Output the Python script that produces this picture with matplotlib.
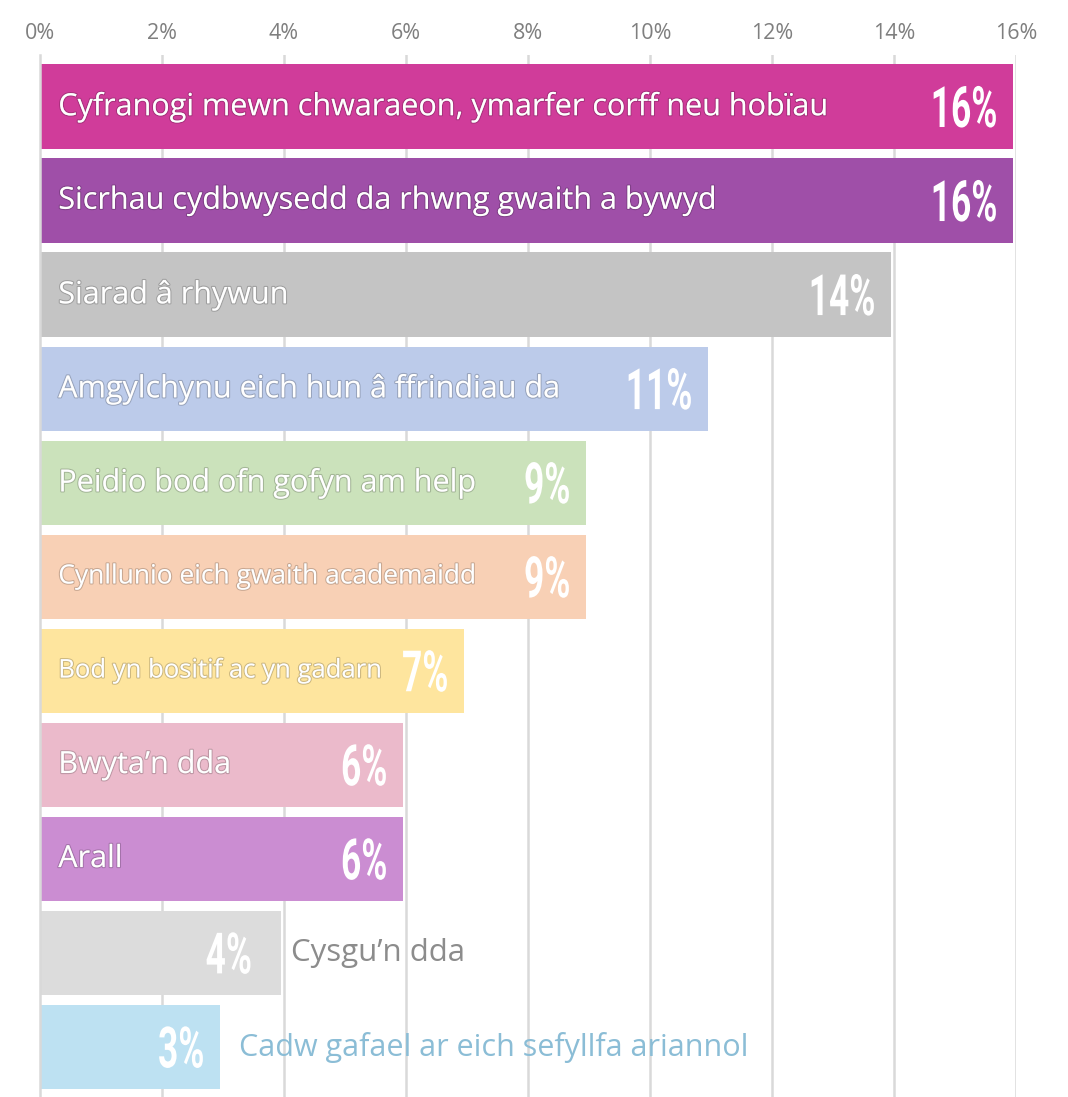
import matplotlib
matplotlib.use("Agg")
import matplotlib.pyplot as plt
import matplotlib.patheffects as pe
from matplotlib.textpath import TextPath
from matplotlib.patches import PathPatch
from matplotlib.font_manager import FontProperties
from matplotlib.transforms import Affine2D, IdentityTransform

labels = [
    "Cyfranogi mewn chwaraeon, ymarfer corff neu hobïau",
    "Sicrhau cydbwysedd da rhwng gwaith a bywyd",
    "Siarad â rhywun",
    "Amgylchynu eich hun â ffrindiau da",
    "Peidio bod ofn gofyn am help",
    "Cynllunio eich gwaith academaidd",
    "Bod yn bositif ac yn gadarn",
    "Bwyta’n dda",
    "Arall",
    "Cysgu’n dda",
    "Cadw gafael ar eich sefyllfa ariannol",
]
values = [15.95, 15.95, 13.95, 10.95, 8.95, 8.95, 6.95, 5.95, 5.95, 3.95, 2.95]
shown = ["16%", "16%", "14%", "11%", "9%", "9%", "7%", "6%", "6%", "4%", "3%"]
colors = ["#d03c9a", "#9f4fa8", "#c4c4c4", "#bccbea", "#cbe2bb", "#f8d0b5",
          "#fee59e", "#ebbacb", "#cb8dd2", "#dcdcdc", "#bde1f2"]
ticks = [0, 2, 4, 6, 8, 10, 12, 14, 16]

DPI = 100
fig = plt.figure(figsize=(10.68, 10.97), dpi=DPI)
ax = fig.add_axes([40 / 1068, 0, 976 / 1068, 1 - 55 / 1097])

ypos = list(range(len(labels)))
ax.barh(ypos, values, height=0.9, color=colors, zorder=2)
ax.set_xlim(0, 16)
ax.set_ylim(10.53, -0.55)
ax.set_yticks([])
ax.set_xticks(ticks)
ax.set_xticklabels([f"{t}%" for t in ticks], fontsize=15.5, color="#7f7f7f",
                   family="Open Sans")
ax.xaxis.tick_top()
ax.tick_params(axis="x", length=0, pad=8)
for t in ticks[1:]:
    ax.axvline(t, color="#d9d9d9", lw=1.8, zorder=1)
for s in ["top", "right", "bottom"]:
    ax.spines[s].set_visible(False)
ax.spines["left"].set_color("#d9d9d9")
ax.spines["left"].set_linewidth(1.8)

# condensed bold numbers: squeeze a text path horizontally
num_font = FontProperties(family="Roboto", weight="bold")
NUM_SIZE = 57      # em size in pixels
SQUEEZE = 0.62


def condensed_label(x, y, s):
    path = TextPath((0, 0), s, size=NUM_SIZE, prop=num_font)
    ext = path.get_extents()
    px, py = ax.transData.transform((x, y))
    cap = NUM_SIZE * 0.711
    tr = (Affine2D().translate(-ext.x1, -cap / 2).scale(SQUEEZE, 1.0)
          .translate(px, py))
    patch = PathPatch(path, facecolor="white", edgecolor="none", lw=0,
                      transform=tr + IdentityTransform(), zorder=3)
    fig.add_artist(patch)


label_sizes = [22, 22, 22, 22, 22, 19, 18.5, 22, 22, 22.5, 22]
outside = {9: ("#8c8c8c", 0.17), 10: ("#8bbdd6", 0.31)}
for i, (lab, v, s, c) in enumerate(zip(labels, values, shown, colors)):
    condensed_label(v - (0.5 if i == 9 else 0.28), i, s)
    if i in outside:
        col, off = outside[i]
        ax.text(v + off, i, lab, ha="left", va="center", color=col,
                fontsize=label_sizes[i], family="Open Sans", zorder=3)
    else:
        ax.text(0.3, i, lab, ha="left", va="center", color="white",
                fontsize=label_sizes[i], family="Open Sans", zorder=3,
                path_effects=[pe.withStroke(linewidth=1.6, foreground="#00000030")])

fig.savefig("out.png", dpi=DPI, facecolor="white")
